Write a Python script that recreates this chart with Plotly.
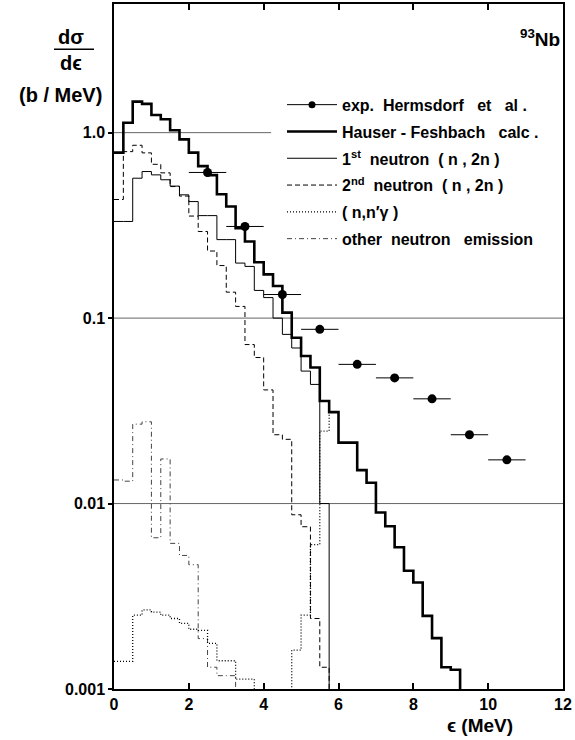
import math
import plotly.graph_objects as go

# ---------------- data ----------------
bin_width = 0.25  # MeV

hf_calc = [0.78, 1.13, 1.47, 1.43, 1.245, 1.18, 1.03, 0.92, 0.78, 0.66, 0.59, 0.465,
           0.40, 0.305, 0.259, 0.200, 0.172, 0.149, 0.107, 0.0783, 0.0625, 0.0542,
           0.0357, 0.0311, 0.0213, 0.0213, 0.01515, 0.01295, 0.00895, 0.00755,
           0.00581, 0.00434, 0.00375, 0.00248, 0.00188, 0.00131, 0.00127]

first_neutron = [0.332, 0.332, 0.568, 0.617, 0.592, 0.557, 0.515, 0.462, 0.425, 0.357,
                 0.357, 0.265, 0.265, 0.198, 0.190, 0.141, 0.129, 0.100, 0.0817, 0.0690,
                 0.0518, 0.0439, 0.0100]

second_neutron = [0.436, 0.79, 0.855, 0.778, 0.675, 0.607, 0.512, 0.455, 0.355, 0.293,
                  0.230, 0.192, 0.138, 0.1156, 0.0720, 0.0613, 0.0410, 0.0235, 0.0222,
                  0.0087, 0.0075, 0.0024, 0.00131]

n_ngamma = [0.00141, 0.00141, 0.00250, 0.00267, 0.00260, 0.00250, 0.00240, 0.00226,
            0.00210, 0.00207, 0.00176, 0.00142, 0.00142, 0.00113, 0.00113, 0.00090,
            0.00092, 0.00094, 0.00097, 0.00162, 0.00250, 0.00600, 0.0246, 0.0311]

other_emission = [0.0134, 0.0132, 0.0268, 0.0276, 0.00654, 0.0174, 0.0061, 0.00525,
                  0.00468, 0.00187, 0.00131, 0.00118, 0.00118]

exp_energy = [2.5, 3.5, 4.5, 5.5, 6.5, 7.5, 8.5, 9.5, 10.5]
exp_value = [0.61, 0.312, 0.134, 0.087, 0.0563, 0.0476, 0.0367, 0.0235, 0.0172]
exp_halfwidth = [0.5] * len(exp_energy)

x_ticks = [0, 2, 4, 6, 8, 10, 12]
y_ticks = [1.0, 0.1, 0.01, 0.001]
y_ticktext = ["1.0", "0.1", "0.01", "0.001"]
# horizontal reference lines: (value, x extent)
grid_lines = [(1.0, 4.2), (0.1, 12), (0.01, 12)]

Y_MIN, Y_MAX = 0.001, 4.94
FLOOR = 1e-5  # value used to draw a drop below the axis

NB = "\u00a0"


def sp(n):
    return NB * n


def step(values, drop=True):
    xs = [i * bin_width for i in range(len(values) + 1)]
    ys = list(values) + [values[-1]]
    if drop:
        xs.append(len(values) * bin_width)
        ys.append(FLOOR)
    return xs, ys


FONT = "Liberation Sans, Arial, sans-serif"
fig = go.Figure()

# experimental points
fig.add_trace(go.Scatter(
    x=exp_energy, y=exp_value, mode="markers",
    marker=dict(color="black", size=9),
    error_x=dict(type="data", array=exp_halfwidth, color="black", thickness=1, width=0),
    showlegend=False, legendgroup="exp"))
# legend sample for experiment (line + marker, no data)
fig.add_trace(go.Scatter(
    x=[None], y=[None], mode="lines+markers",
    line=dict(color="black", width=1), marker=dict(color="black", size=7),
    name=f"exp.{sp(2)}Hermsdorf{sp(3)}et{sp(3)}al{sp(1)}.", legendgroup="exp",
    legendrank=1))

x, y = step(other_emission)
fig.add_trace(go.Scatter(x=x, y=y, mode="lines", line_shape="hv",
                         line=dict(color="#444", width=1, dash="5px,3px,1px,3px"),
                         name=f"other{sp(2)}neutron{sp(3)}emission",
                         legendgroup="g6", legendrank=6))
x, y = step(n_ngamma, drop=False)
fig.add_trace(go.Scatter(x=x, y=y, mode="lines", line_shape="hv",
                         line=dict(color="black", width=1.3, dash="1px,2px"),
                         name=f"({sp(1)}n,n′γ{sp(1)})", legendgroup="g5", legendrank=5))
x, y = step(second_neutron)
fig.add_trace(go.Scatter(x=x, y=y, mode="lines", line_shape="hv",
                         line=dict(color="black", width=1, dash="5px,3px"),
                         name=f"2<sup>nd</sup>{sp(2)}neutron{sp(2)}({sp(1)}n{sp(1)},{sp(1)}2n{sp(1)})",
                         legendgroup="g4", legendrank=4))
x, y = step(first_neutron)
fig.add_trace(go.Scatter(x=x, y=y, mode="lines", line_shape="hv",
                         line=dict(color="black", width=1),
                         name=f"1<sup>st</sup>{sp(2)}neutron{sp(2)}({sp(1)}n{sp(1)},{sp(1)}2n{sp(1)})",
                         legendgroup="g3", legendrank=3))
x, y = step(hf_calc)
fig.add_trace(go.Scatter(x=x, y=y, mode="lines", line_shape="hv",
                         line=dict(color="black", width=2.6),
                         name=f"Hauser{sp(1)}-{sp(1)}Feshbach{sp(3)}calc{sp(1)}.",
                         legendgroup="g2", legendrank=2))

L, R, T, B = 114, 12, 2, 51
W, H = 575, 740
pw, ph = W - L - R, H - T - B


def px(xp):
    return (xp - L) / pw


def py(yp):
    return (H - B - yp) / ph


fig.update_layout(
    width=W, height=H, margin=dict(l=L, r=R, t=T, b=B),
    paper_bgcolor="white", plot_bgcolor="white",
    font=dict(family=FONT, color="black", size=15),
    legend=dict(x=px(282), y=py(86), xanchor="left", yanchor="top",
                bgcolor="rgba(0,0,0,0)", borderwidth=0, traceorder="grouped",
                tracegroupgap=3, font=dict(size=16, family=FONT, weight="bold"),
                itemwidth=50),
    xaxis=dict(range=[0, 12], tickvals=x_ticks, ticks="inside", ticklen=6,
               tickwidth=1.5, tickcolor="black", showline=True, linecolor="black",
               linewidth=1.5, mirror="ticks", showgrid=False, zeroline=False,
               tickfont=dict(size=16, family=FONT, weight="bold")),
    yaxis=dict(type="log", range=[math.log10(Y_MIN), math.log10(Y_MAX)],
               tickvals=y_ticks, ticktext=y_ticktext, ticks="outside", ticklen=4,
               tickwidth=1.5, tickcolor="black", showline=True, linecolor="black",
               linewidth=1.5, mirror=True, showgrid=False, zeroline=False,
               tickfont=dict(size=16, family=FONT, weight="bold")),
    showlegend=True,
)

for val, xmax in grid_lines:
    fig.add_shape(type="line", xref="x", yref="y", x0=0, x1=xmax, y0=val, y1=val,
                  line=dict(color="#555", width=0.9), layer="below")

ann_font = dict(family=FONT, size=19, color="black", weight="bold")


def label(xp, yp, text, size=19):
    f = dict(ann_font)
    f["size"] = size
    fig.add_annotation(x=px(xp), y=py(yp), xref="paper", yref="paper", text=text,
                       showarrow=False, font=f, xanchor="center", yanchor="middle")


label(71, 35, "dσ", 20)
label(71, 61, "dϵ", 20)
fig.add_shape(type="line", xref="paper", yref="paper", x0=px(54), x1=px(94),
              y0=py(47.5), y1=py(47.5), line=dict(color="black", width=1.5))
label(60, 93, "(b / MeV)", 20)
label(540, 36, "<sup>93</sup>Nb", 19)
label(480, 726, "ϵ (MeV)", 19)

fig.write_html("out.html")
